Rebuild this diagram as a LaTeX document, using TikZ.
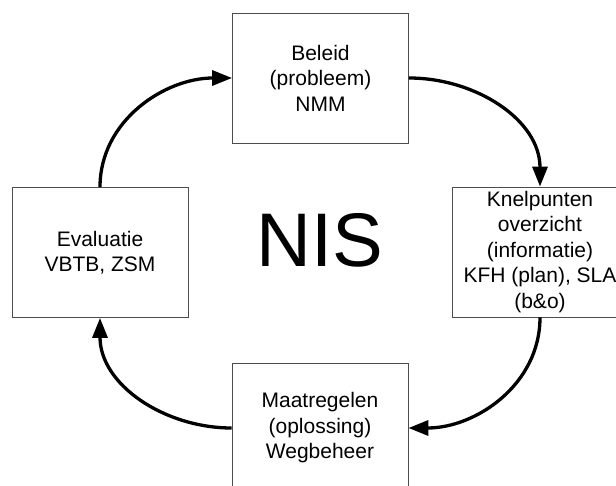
\documentclass[tikz,border=0pt]{standalone}
\usepackage{fontspec}
\setmainfont{Liberation Sans}
\usetikzlibrary{arrows.meta}
\tikzset{
  box/.style={rectangle,draw=black!70,line width=0.8pt,fill=white,
    align=center,minimum width=176pt,minimum height=130pt,inner sep=2pt,
    font=\fontsize{21}{25.5}\selectfont},
  ar/.style={-{Triangle[length=20pt,width=15pt]},line width=3.3pt,draw=black},
  big/.style={font=\fontsize{76}{80}\selectfont},
}
\begin{document}
\begin{tikzpicture}[x=1pt,y=-1pt]
  \clip (0,0) rectangle (616,486);
  \node[box] (beleid) at (320.5,78) {Beleid\\(probleem)\\NMM};
  \node[box] (knel) at (540,252) {Knelpunten\\overzicht\\(informatie)\\KFH (plan), SLA\\(b\&o)};
  \node[box] (maat) at (320,428) {Maatregelen\\(oplossing)\\Wegbeheer};
  \node[box] (eval) at (100,252.5) {Evaluatie\\VBTB, ZSM};
  \node[big] (nis) at (320,240) {NIS};
  \draw[ar] (beleid.east) to[out=0,in=90] (knel.north);
  \draw[ar] (knel.south) to[out=-90,in=0] (maat.east);
  \draw[ar] (maat.west) to[out=180,in=-90] (eval.south);
  \draw[ar] (eval.north) to[out=90,in=180] (beleid.west);
\end{tikzpicture}
\end{document}
